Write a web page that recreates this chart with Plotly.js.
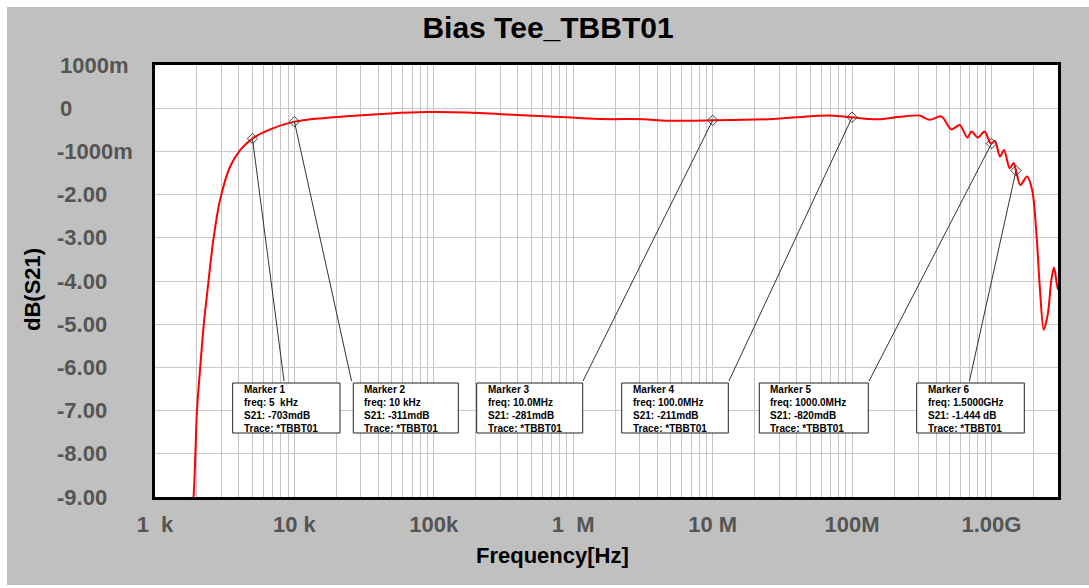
<!DOCTYPE html>
<html><head><meta charset="utf-8">
<script src="https://cdn.plot.ly/plotly-3.0.1.min.js"></script>
<style>
html,body{margin:0;padding:0;background:#fff;width:1089px;height:588px;overflow:hidden}
#chart{position:absolute;left:7px;top:7px;width:1082px;height:578px}
</style>
</head><body><div id="chart"></div>
<script>
// ---- data ----
const freqHz = [1.7e3, 1.89e3, 2.0e3, 2.11e3, 2.23e3, 2.42e3, 2.62e3, 2.93e3, 3.46e3, 4.08e3, 5.0e3, 6.7e3,
  1.0e4, 1.6e4, 2.5e4, 4.85e4, 8.9e4, 1.72e5, 3.93e5, 6.81e5, 1.55e6, 3.18e6, 4.67e6, 1.0e7, 2.7e7, 4.7e7,
  6.9e7, 1.0e8, 1.34e8, 1.67e8, 2.2e8, 3.05e8, 3.6e8, 4.37e8, 5.16e8, 5.92e8, 6.72e8, 7.18e8, 8.0e8, 8.93e8,
  9.9e8, 1.06e9, 1.15e9, 1.23e9, 1.35e9, 1.44e9, 1.5e9, 1.61e9, 1.80e9, 1.96e9, 2.10e9, 2.22e9, 2.37e9,
  2.54e9, 2.69e9, 2.81e9, 2.95e9, 3.0e9];
const s21dB = [-10.5, -9.0, -7.0, -6.0, -5.06, -4.0, -3.05, -2.12, -1.35, -0.97, -0.703, -0.49,
  -0.311, -0.23, -0.18, -0.12, -0.09, -0.10, -0.155, -0.19, -0.25, -0.255, -0.29, -0.281, -0.25, -0.19,
  -0.17, -0.211, -0.25, -0.25, -0.20, -0.17, -0.27, -0.19, -0.49, -0.39, -0.68, -0.54, -0.68, -0.54,
  -0.82, -0.76, -1.12, -0.97, -1.39, -1.27, -1.444, -1.78, -1.58, -1.90, -2.89, -4.13, -5.13,
  -4.75, -3.97, -3.69, -4.09, -4.2];

const markerFreqHz = [5e3, 1e4, 1e7, 1e8, 1e9, 1.5e9];
const markerS21dB = [-0.703, -0.311, -0.281, -0.211, -0.820, -1.444];
const markerNames = ['Marker 1', 'Marker 2', 'Marker 3', 'Marker 4', 'Marker 5', 'Marker 6'];
const markerFreqText = ['freq: 5\u00a0\u00a0kHz', 'freq: 10 kHz', 'freq: 10.0MHz', 'freq: 100.0MHz', 'freq: 1000.0MHz', 'freq: 1.5000GHz'];
const markerS21Text = ['S21: -703mdB', 'S21: -311mdB', 'S21: -281mdB', 'S21: -211mdB', 'S21: -820mdB', 'S21: -1.444 dB'];
const markerTraceText = ['Trace: *TBBT01', 'Trace: *TBBT01', 'Trace: *TBBT01', 'Trace: *TBBT01', 'Trace: *TBBT01', 'Trace: *TBBT01'];

const xTickVals = [1e3, 1e4, 1e5, 1e6, 1e7, 1e8, 1e9];
const xTickText = ['1\u00a0\u00a0k', '10 k', '100k', '1\u00a0\u00a0M', '10 M', '100M', '1.00G'];
const yTickVals = [1, 0, -1, -2, -3, -4, -5, -6, -7, -8, -9];
const yTickText = ['1000m', '0', '-1000m', '-2.00', '-3.00', '-4.00', '-5.00', '-6.00', '-7.00', '-8.00', '-9.00'];

// ---- layout geometry (page pixels) ----
const PL = 155, PR = 1058, PT = 65, PB = 497, OFFX = 7, OFFY = 7, W = 1082, H = 578;
const xRange = [3, Math.log10(3e9)];
const yRange = [-9, 1];
const px2paper = px => (px - PL) / (PR - PL);
const py2paper = py => (PB - py) / (PB - PT);
const px2logx = px => xRange[0] + px2paper(px) * (xRange[1] - xRange[0]);
const py2yval = py => yRange[0] + py2paper(py) * (yRange[1] - yRange[0]);

const boxLeft = [232.7, 353.3, 476.7, 621.7, 759.3, 916.7];
const boxRight = [340, 458.3, 582.7, 728.3, 868.3, 1024.3];
const boxTop = 383, boxBottom = 433;
const leaderX = [284.3, 352, 582, 728, 868, 969];

const FONT = 'Liberation Sans, Arial, Helvetica, sans-serif';
const TICKGRAY = '#555555';

// minor gridlines 2..9 per decade
const minorVals = [];
for (let e = 3; e <= 9; e++) for (let d = 2; d <= 9; d++) minorVals.push(d * Math.pow(10, e));

const traces = [
  {x: freqHz, y: s21dB, type: 'scatter', mode: 'lines',
   line: {color: '#ff0000', width: 2, shape: 'spline', smoothing: 0.8}, hoverinfo: 'skip'},
  {x: markerFreqHz, y: markerS21dB, type: 'scatter', mode: 'markers',
   marker: {symbol: 'diamond-open', size: 8, color: '#404040', line: {width: 1, color: '#404040'}}, hoverinfo: 'skip'}
];

const shapes = [];
const annotations = [];
for (let i = 0; i < markerNames.length; i++) {
  shapes.push({type: 'rect', xref: 'paper', yref: 'paper', layer: 'above',
    x0: px2paper(boxLeft[i]), x1: px2paper(boxRight[i]), y0: py2paper(boxBottom), y1: py2paper(boxTop),
    fillcolor: '#ffffff', line: {color: '#222222', width: 1}});
  annotations.push({xref: 'x', yref: 'y', axref: 'x', ayref: 'y',
    x: Math.log10(markerFreqHz[i]), y: markerS21dB[i], ax: px2logx(leaderX[i]), ay: py2yval(boxTop),
    text: ' ', showarrow: true, arrowhead: 0, arrowwidth: 1, arrowcolor: '#333333', standoff: 0, startstandoff: 0,
    font: {size: 1}});
  const text = [markerNames[i], markerFreqText[i], markerS21Text[i], markerTraceText[i]].join('<br>');
  annotations.push({xref: 'paper', yref: 'paper', x: px2paper(boxLeft[i] + 10), y: py2paper((boxTop + boxBottom) / 2 + 0.5),
    xanchor: 'left', yanchor: 'middle', align: 'left', showarrow: false, text: text, borderpad: 0,
    font: {family: FONT, size: 10, weight: 700, color: '#000000'}});
}
// y tick labels (left aligned as in the reference)
yTickVals.forEach((v, k) => {
  const t = yTickText[k];
  annotations.push({xref: 'paper', yref: 'y', x: px2paper(t[0] === '-' ? 55 : 58), y: v,
    xanchor: 'left', yanchor: 'middle', showarrow: false, text: t,
    font: {family: FONT, size: 22, weight: 700, color: TICKGRAY}});
});
// axis titles
annotations.push({xref: 'paper', yref: 'paper', x: px2paper(552), y: py2paper(555), xanchor: 'center', yanchor: 'middle',
  showarrow: false, text: 'Frequency[Hz]', font: {family: FONT, size: 22, weight: 700, color: '#000'}});
annotations.push({xref: 'paper', yref: 'paper', x: px2paper(32), y: py2paper(290), xanchor: 'center', yanchor: 'middle',
  showarrow: false, textangle: -90, text: 'dB(S21)', font: {family: FONT, size: 22, weight: 700, color: '#000'}});

const layout = {
  width: W, height: H,
  paper_bgcolor: '#c0c0c0', plot_bgcolor: '#ffffff',
  margin: {l: PL - OFFX, r: W - (PR - OFFX), t: PT - OFFY, b: H - (PB - OFFY), pad: 0},
  showlegend: false,
  title: {text: 'Bias Tee_TBBT01', font: {family: FONT, size: 30, weight: 700, color: '#000'},
    x: 0.5, xref: 'container', xanchor: 'center', y: 1 - 20 / H, yref: 'container', yanchor: 'middle'},
  xaxis: {type: 'log', range: xRange, tickmode: 'array', tickvals: xTickVals, ticktext: xTickText,
    ticks: '', ticklabelstandoff: 6,
    tickfont: {family: FONT, size: 22, weight: 700, color: TICKGRAY},
    showgrid: true, gridcolor: '#c4c4c4', gridwidth: 1,
    minor: {tickmode: 'array', tickvals: minorVals, showgrid: true, gridcolor: '#c4c4c4', gridwidth: 1, ticks: ''},
    showline: true, mirror: true, linecolor: '#000', linewidth: 3, zeroline: false, fixedrange: true},
  yaxis: {range: yRange, tickmode: 'array', tickvals: yTickVals, showticklabels: false, ticks: '',
    showgrid: true, gridcolor: '#c8c8c8', gridwidth: 1,
    showline: true, mirror: true, linecolor: '#000', linewidth: 3, zeroline: false, fixedrange: true},
  shapes: shapes,
  annotations: annotations
};

Plotly.newPlot('chart', traces, layout, {displayModeBar: false, staticPlot: true});
</script>
</body></html>
